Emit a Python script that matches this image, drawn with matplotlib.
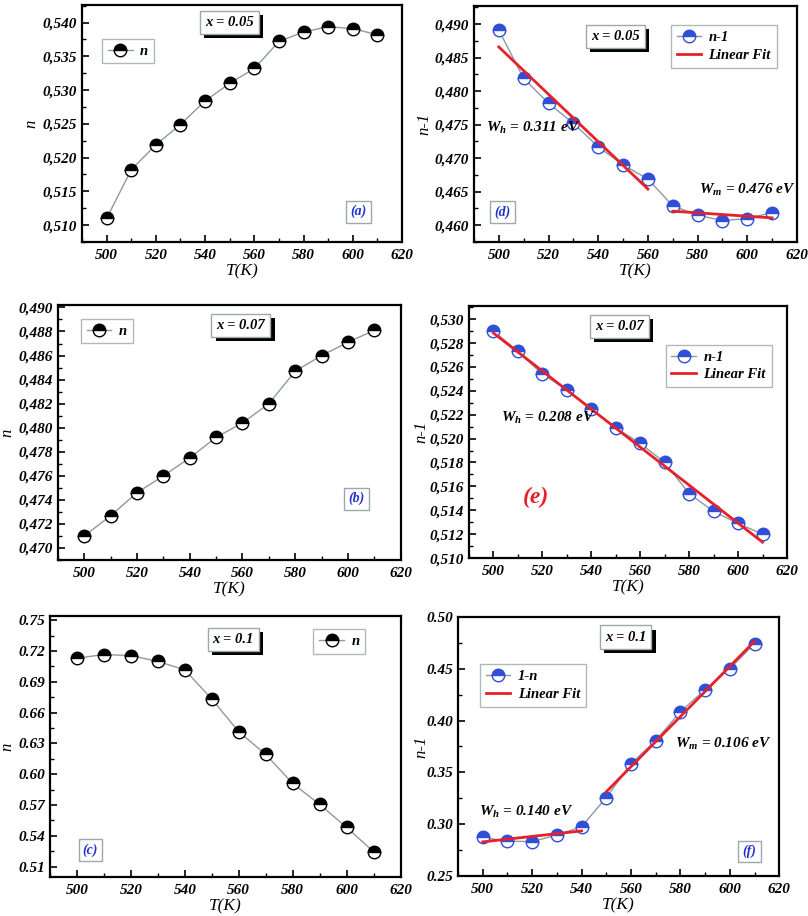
import numpy as np
import matplotlib.pyplot as plt
import matplotlib.patheffects as pe
from matplotlib.ticker import MultipleLocator, FuncFormatter

plt.rcParams['font.family'] = 'Liberation Serif'
plt.rcParams['font.weight'] = 'bold'
plt.rcParams['font.style'] = 'italic'
plt.rcParams['mathtext.fontset'] = 'custom'
plt.rcParams['mathtext.rm'] = 'Liberation Serif:italic:bold'
plt.rcParams['mathtext.it'] = 'Liberation Serif:italic:bold'
plt.rcParams['mathtext.bf'] = 'Liberation Serif:italic:bold'

# temperatures (K)
T = [500, 510, 520, 530, 540, 550, 560, 570, 580, 590, 600, 610]

# left column: n
n_005 = [0.5110, 0.5182, 0.5219, 0.5249, 0.5284, 0.5310, 0.5332, 0.5372, 0.5386, 0.5394, 0.5391, 0.5382]
n_007 = [0.4710, 0.4727, 0.4746, 0.4760, 0.4775, 0.4792, 0.4804, 0.4820, 0.4847, 0.4860, 0.4871, 0.4881]
n_010 = [0.7130, 0.7165, 0.7155, 0.7098, 0.7016, 0.6731, 0.6414, 0.6193, 0.5911, 0.5706, 0.5483, 0.5246]

# right column: n-1
m_005 = [0.4891, 0.4819, 0.4782, 0.4752, 0.4717, 0.4690, 0.4669, 0.4629, 0.4615, 0.4607, 0.4610, 0.4619]
m_007 = [0.5290, 0.5273, 0.5254, 0.5241, 0.5225, 0.5209, 0.5196, 0.5180, 0.5154, 0.5139, 0.5129, 0.5120]
m_010 = [0.2872, 0.2836, 0.2832, 0.2895, 0.2975, 0.3257, 0.3583, 0.3807, 0.4085, 0.4298, 0.4502, 0.4741]

# fit ranges (index slices) + annotation
fit_005 = [(0, 7, r'$W_h$ = 0.311 eV', 495, 0.4745), (7, 12, r'$W_m$ = 0.476 eV', 580.5, 0.4653)]
fit_007 = [(0, 12, r'$W_h$ = 0.208 eV', 503, 0.5217)]
fit_010 = [(0, 5, r'$W_h$ = 0.140 eV', 498.7, 0.3115), (5, 12, r'$W_m$ = 0.106 eV', 577.7, 0.3771)]

fig = plt.figure(figsize=(8.08, 9.16), dpi=100)

GRAY = '#8c9aa2'
BLUE = '#2f4fd6'
RED = '#e8202a'
BOXEDGE = '#9aa8b0'


def comma_fmt(dec):
    return FuncFormatter(lambda v, _: f'{v:.{dec}f}'.replace('.', ','))


def style_axes(ax, ylim, ymaj, ymin, fmt, ylabel, ylab_x):
    ax.set_xlim(490, 620)
    ax.set_ylim(*ylim)
    ax.xaxis.set_major_locator(MultipleLocator(20))
    ax.xaxis.set_minor_locator(MultipleLocator(10))
    ax.yaxis.set_major_locator(MultipleLocator(ymaj))
    ax.yaxis.set_minor_locator(MultipleLocator(ymin))
    ax.yaxis.set_major_formatter(fmt)
    ax.tick_params(which='both', direction='in', labelsize=11)
    ax.tick_params(which='major', length=5, width=1.2)
    ax.tick_params(which='minor', length=3, width=1.0)
    ax.tick_params(axis='x', pad=5)
    for s in ax.spines.values():
        s.set_linewidth(1.6)
    ax.set_xlabel('T(K)', fontsize=12.5, labelpad=1)
    ax.set_ylabel(ylabel, fontsize=12)
    ax.yaxis.set_label_coords(ylab_x, 0.5)


def x_box(ax, x, y, txt):
    t = ax.text(x, y, txt, ha='center', va='center', fontsize=10.5,
                bbox=dict(boxstyle='square,pad=0.35', fc='white', ec=BOXEDGE, lw=1))
    t.get_bbox_patch().set_path_effects([pe.withSimplePatchShadow(offset=(3, -3), shadow_rgbFace='black', alpha=1)])


def tag(ax, x, y, txt):
    ax.text(x, y, txt, ha='center', va='center', fontsize=10, color='#2233cc',
            bbox=dict(boxstyle='square,pad=0.3', fc='white', ec=BOXEDGE, lw=1))


def add_legend(ax, loc, anchor):
    leg = ax.legend(loc=loc, bbox_to_anchor=anchor, fontsize=10.5, fancybox=False,
                    edgecolor=BOXEDGE, handlelength=1.7, handletextpad=0.5, borderpad=0.4,
                    numpoints=1, labelspacing=0.3)
    leg.get_frame().set_linewidth(1)


def left_panel(rect, y, ylim, ymaj, ymin, fmt, ylab_x, xlab, tlab, leg_loc, leg_anchor):
    ax = fig.add_axes(rect)
    ax.plot(T, y, '-', color=GRAY, lw=1, marker='o', ms=9, fillstyle='top',
            mfc='black', mfcalt='white', mec='black', mew=1, label='n')
    style_axes(ax, ylim, ymaj, ymin, fmt, 'n', ylab_x)
    x_box(ax, *xlab)
    tag(ax, *tlab)
    add_legend(ax, leg_loc, leg_anchor)
    return ax


def right_panel(rect, y, fits, ylim, ymaj, ymin, fmt, ylab_x, xlab, label, leg_loc, leg_anchor):
    ax = fig.add_axes(rect)
    ax.plot(T, y, '-', color=GRAY, lw=1, marker='o', ms=9, fillstyle='top',
            mfc=BLUE, mfcalt='white', mec=BLUE, mew=1, label=label)
    for k, (i0, i1, txt, tx, ty) in enumerate(fits):
        xs = np.array(T[i0:i1])
        p = np.polyfit(xs, y[i0:i1], 1)
        ax.plot(xs, np.polyval(p, xs), color=RED, lw=2, label='Linear Fit' if k == 0 else None)
        ax.text(tx, ty, txt, ha='left', va='center', fontsize=11)
    style_axes(ax, ylim, ymaj, ymin, fmt, 'n-1', ylab_x)
    x_box(ax, *xlab)
    add_legend(ax, leg_loc, leg_anchor)
    return ax


# (a)
left_panel([0.1015, 0.7358, 0.396, 0.2587], n_005, (0.5075, 0.5426), 0.005, 0.0025, comma_fmt(3), -0.134,
           (550, 0.540, 'x = 0.05'), (602.4, 0.512, '(a)'), 'center left', (0.04, 0.806))
# (b)
left_panel([0.0718, 0.3886, 0.424, 0.2784], n_007, (0.469, 0.4902), 0.002, 0.001, comma_fmt(3), -0.124,
           (559.4, 0.4885, 'x = 0.07'), (603.3, 0.4741, '(b)'), 'center left', (0.045, 0.898))
# (c)
left_panel([0.0619, 0.0426, 0.4338, 0.2849], n_010, (0.50, 0.754), 0.03, 0.015,
           FuncFormatter(lambda v, _: f'{v:.2f}'), -0.098,
           (558, 0.7312, 'x = 0.1'), (505, 0.5262, '(c)'), 'center right', (0.92, 0.902))

# (d)
ax_d = right_panel([0.5866, 0.7358, 0.3998, 0.2576], m_005, fit_005, (0.4575, 0.4927), 0.005, 0.0025,
                   comma_fmt(3), -0.13, (546.8, 0.4882, 'x = 0.05'), 'n-1', 'upper right', (0.96, 0.95))
tag(ax_d, 501.5, 0.4620, '(d)')
# (e)
ax_e = right_panel([0.5804, 0.3908, 0.3936, 0.2751], m_007, fit_007, (0.510, 0.5311), 0.002, 0.001,
                   comma_fmt(3), -0.123, (551.4, 0.5294, 'x = 0.07'), 'n-1', 'upper right', (0.975, 0.875))
ax_e.text(517.3, 0.5151, '(e)', ha='center', va='center', fontsize=17, color=RED)
# (f)
ax_f = right_panel([0.5668, 0.0437, 0.3977, 0.2828], m_010, fit_010, (0.25, 0.50), 0.05, 0.025,
                   FuncFormatter(lambda v, _: f'{v:.2f}'), -0.09,
                   (557.8, 0.4806, 'x = 0.1'), '1-n', 'upper left', (0.045, 0.845))
tag(ax_f, 607.9, 0.2736, '(f)')

fig.savefig('out.png', dpi=100)
